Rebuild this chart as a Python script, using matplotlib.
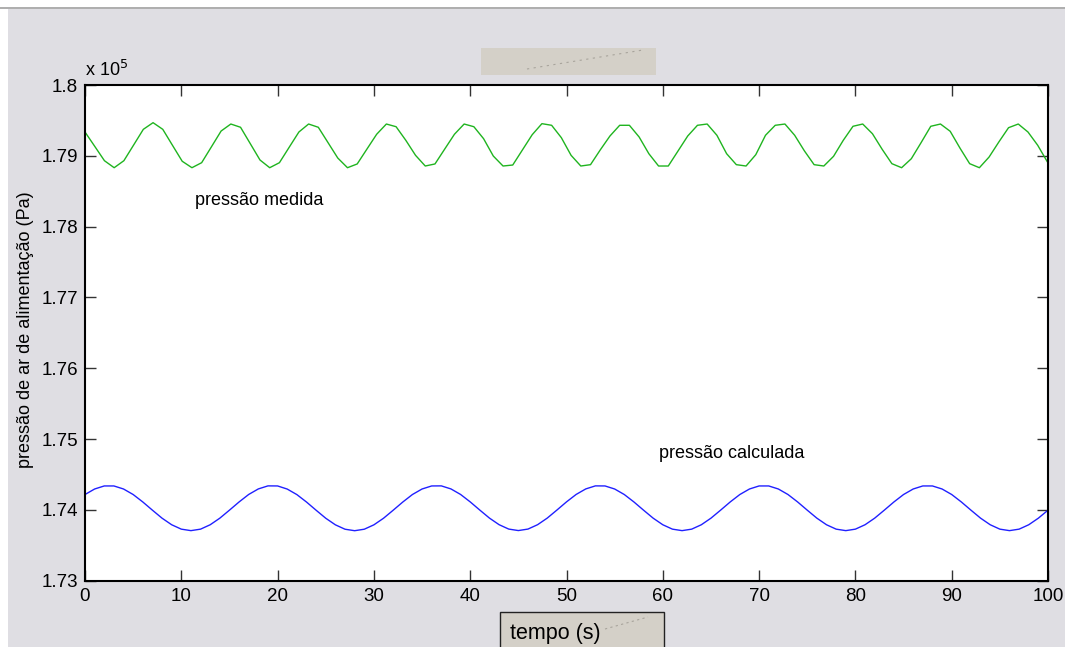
import numpy as np
import matplotlib
matplotlib.use("Agg")
import matplotlib.pyplot as plt
from matplotlib.patches import Rectangle
from matplotlib.lines import Line2D
from matplotlib.ticker import FuncFormatter, MultipleLocator

plt.rcParams["font.family"] = ["Liberation Sans", "DejaVu Sans"]

# measured supply pressure (Pa), one sample every ~1 s
dt_medida = 1.0095
p_medida = [
    179336, 179134, 178931, 178832, 178931, 179152, 179374, 179468, 179374, 179148,
    178923, 178832, 178903, 179126, 179350, 179449, 179403, 179172, 178941, 178832,
    178903, 179120, 179336, 179449, 179403, 179186, 178969, 178832, 178885, 179095,
    179304, 179449, 179411, 179219, 179007, 178856, 178885, 179095, 179304, 179449,
    179411, 179242, 178997, 178856, 178870, 179084, 179298, 179454, 179431, 179256,
    179007, 178856, 178875, 179083, 179280, 179431, 179431, 179266, 179030, 178856,
    178856, 179068, 179280, 179431, 179449, 179290, 179030, 178875, 178856, 179016,
    179290, 179431, 179449, 179290, 179070, 178875, 178856, 178993, 179219, 179417,
    179449, 179312, 179092, 178889, 178832, 178959, 179185, 179417, 179449, 179346,
    179110, 178889, 178832, 178983, 179195, 179397, 179449, 179336, 179149, 178913,
    178830,
]

# calculated supply pressure (Pa), one sample per second
p_calculada = [
    174217, 174295, 174338, 174338, 174295, 174217, 174112, 173996, 173883, 173790,
    173728, 173707, 173728, 173790, 173883, 173996, 174112, 174218, 174296, 174339,
    174338, 174294, 174216, 174111, 173995, 173882, 173789, 173727, 173706, 173727,
    173789, 173882, 173995, 174111, 174217, 174295, 174338, 174339, 174296, 174218,
    174113, 173997, 173884, 173791, 173729, 173708, 173729, 173791, 173884, 173997,
    174113, 174218, 174296, 174339, 174338, 174295, 174217, 174112, 173996, 173883,
    173790, 173728, 173707, 173728, 173790, 173883, 173996, 174112, 174217, 174295,
    174338, 174338, 174295, 174217, 174112, 173996, 173883, 173790, 173728, 173707,
    173728, 173790, 173883, 173996, 174112, 174217, 174295, 174338, 174338, 174295,
    174217, 174112, 173996, 173883, 173790, 173728, 173707, 173728, 173790, 173883,
    173996,
]

t_medida = np.arange(len(p_medida)) * dt_medida
t_calculada = np.arange(len(p_calculada))

fig = plt.figure(figsize=(10.65, 6.47), dpi=100, facecolor="white")

# window background
fig.patches.append(Rectangle((8 / 1065, 0), 1 - 8 / 1065, 638 / 647,
                             transform=fig.transFigure, facecolor="#dfdee3",
                             edgecolor="none", zorder=-10))
fig.lines.append(Line2D([0, 1], [639.5 / 647, 639.5 / 647], transform=fig.transFigure,
                        color="#a0a0a0", lw=1.2))

ax = fig.add_axes([85 / 1065, 66.3 / 647, 963 / 1065, 495.7 / 647])
ax.set_facecolor("white")

ax.plot(t_medida, p_medida, color="#1fb41f", lw=1.0)
ax.plot(t_calculada, p_calculada, color="#2020ff", lw=1.0)

ax.text(11.4, 178376, "pressão medida", fontsize=13, va="center", ha="left")
ax.text(59.6, 174803, "pressão calculada", fontsize=13, va="center", ha="left")

ax.set_xlim(0, 100)
ax.set_ylim(173000, 180000)
ax.xaxis.set_major_locator(MultipleLocator(10))
ax.yaxis.set_major_locator(MultipleLocator(1000))
ax.yaxis.set_major_formatter(FuncFormatter(lambda v, pos: f"{v / 1e5:g}"))

ax.tick_params(direction="in", length=8, width=1, top=True, right=True,
               labelsize=13.5, color="#333333", pad=5)
for s in ax.spines.values():
    s.set_linewidth(1.5)
    s.set_color("black")

fig.text(85 / 1065, 571 / 647, "x 10$^5$", fontsize=13, ha="left", va="baseline")

# y label
fig.text(26 / 1065, 0.49, "pressão de ar de alimentação (Pa)", rotation=90,
         fontsize=13, ha="center", va="center")

# title placeholder box
fig.patches.append(Rectangle((481 / 1065, 572 / 647), 175 / 1065, 27 / 647,
                             transform=fig.transFigure, facecolor="#d4d0c8",
                             edgecolor="none", zorder=1))
fig.lines.append(Line2D([527 / 1065, 643 / 1065], [578 / 647, 597 / 647],
                        transform=fig.transFigure, color="#a8a49c", lw=0.8,
                        ls=(0, (2, 4)), zorder=2))

# x label box
fig.patches.append(Rectangle((500 / 1065, -5 / 647), 164 / 1065, 40 / 647,
                             transform=fig.transFigure, facecolor="#d4d0c8",
                             edgecolor="#222222", lw=1, zorder=1))
fig.text(510 / 1065, 14 / 647, "tempo (s)", fontsize=15.5, ha="left", va="center", zorder=3)
fig.lines.append(Line2D([605 / 1065, 648 / 1065], [18 / 647, 30 / 647],
                        transform=fig.transFigure, color="#a8a49c", lw=0.8,
                        ls=(0, (2, 3)), zorder=2))

fig.savefig("out.png", dpi=100, facecolor=fig.get_facecolor())
